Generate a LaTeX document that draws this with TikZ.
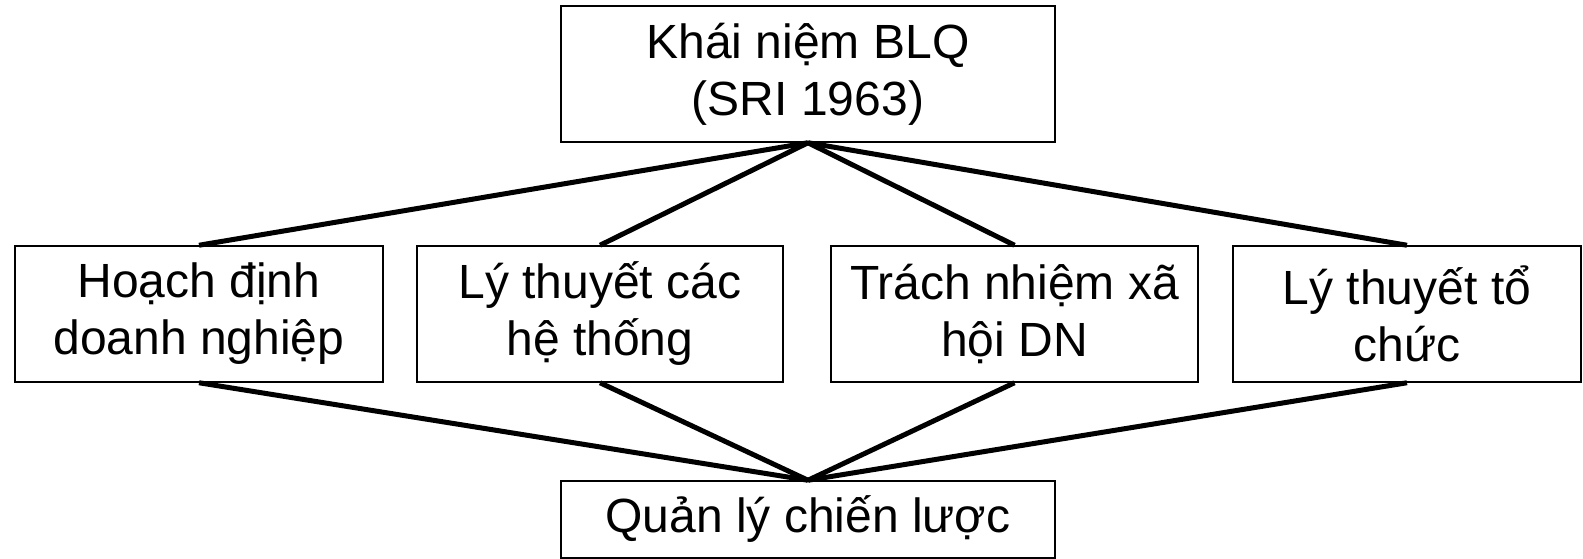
\documentclass[tikz,border=0pt]{standalone}
\usepackage{fontspec}
\setmainfont{Liberation Sans}
\begin{document}
\begin{tikzpicture}[x=1pt,y=-1pt,
  box/.style={draw=black,line width=1.5pt,rectangle,inner sep=0pt,align=center,
    font=\fontsize{48}{57}\selectfont,minimum height=136pt},
  link/.style={line width=5pt,black}]
\useasboundingbox (0,0) rectangle (1583,559);
% top concept
\node[box,minimum width=494pt] (top) at (808,74) {Khái niệm BLQ\\(SRI 1963)};
% four contributing fields
\node[box,minimum width=368pt] (f1) at (199,314) {Hoạch định\\doanh nghiệp};
\node[box,minimum width=366pt] (f2) at (600,314) {Lý thuyết các\\hệ thống};
\node[box,minimum width=367pt] (f3) at (1014.5,314) {Trách nhiệm xã\\hội DN};
\node[box,minimum width=348pt] (f4) at (1407,314) {Lý thuyết tổ\\chức};
% result
\node[box,minimum width=494pt,minimum height=77pt] (bot) at (808,519.5) {Quản lý chiến lược};
% connectors
\foreach \f in {f1,f2,f3,f4}{
  \draw[link] (top.south) -- (\f.north);
  \draw[link] (\f.south) -- (bot.north);
}
\end{tikzpicture}
\end{document}
